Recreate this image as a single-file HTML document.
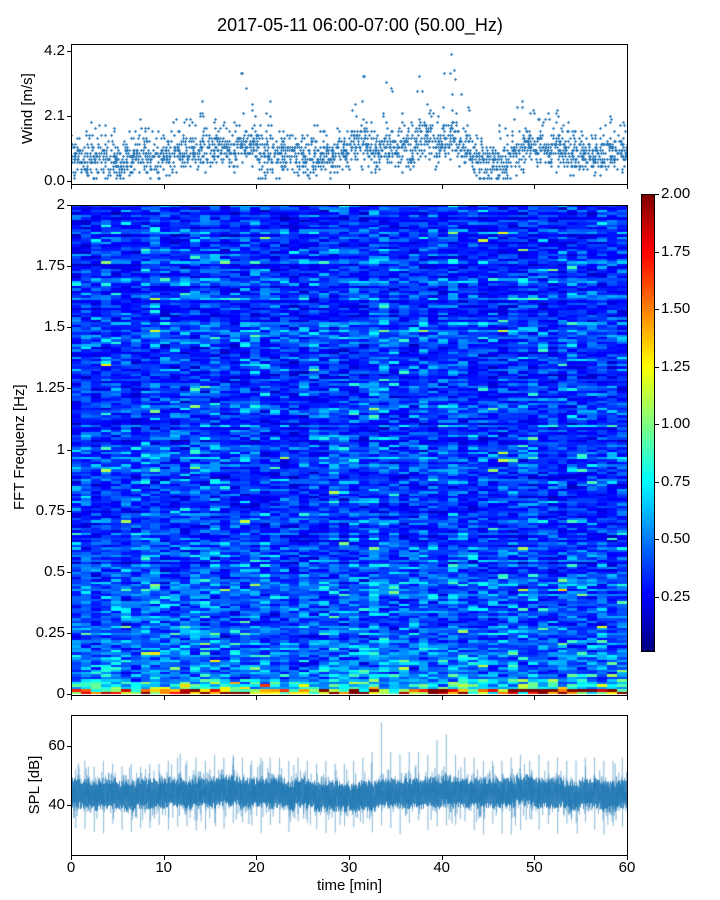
<!DOCTYPE html>
<html><head><meta charset="utf-8">
<style>
body{margin:0;background:#fff;width:720px;height:900px;position:relative;overflow:hidden;font-family:"Liberation Sans","DejaVu Sans",sans-serif;color:#000}
.abs{position:absolute}
.tick{position:absolute;font-size:15px;white-space:nowrap}
.frame{position:absolute;border:1px solid #000;box-sizing:border-box}
canvas{position:absolute}
</style></head><body>
<div class="abs" style="left:0;width:720px;top:15px;text-align:center;font-size:18px">2017-05-11 06:00-07:00 (50.00_Hz)</div>

<canvas id="wind" style="left:71px;top:44px" width="556" height="140"></canvas>
<div class="frame" style="left:71px;top:44px;width:557px;height:141px"></div>
<div class="abs" style="left:-2px;top:114px;width:60px;font-size:15px;transform:rotate(-90deg);text-align:center;white-space:nowrap;line-height:0">Wind [m/s]</div>

<canvas id="spec" style="left:71px;top:205px" width="556" height="490"></canvas>
<div class="frame" style="left:71px;top:205px;width:557px;height:491px"></div>
<div class="abs" style="left:-40px;top:450px;width:120px;font-size:15px;transform:rotate(-90deg);text-align:center;white-space:nowrap;line-height:0">FFT Frequenz [Hz]</div>

<div class="abs" style="left:641px;top:194px;width:14px;height:458px;border:1px solid #000;box-sizing:border-box;background:linear-gradient(to top,#00007f 0%,#0000ff 12.5%,#00ffff 37.5%,#ffff00 62.5%,#ff0000 87.5%,#7f0000 100%)"></div>

<canvas id="spl" style="left:71px;top:715px" width="556" height="140"></canvas>
<div class="frame" style="left:71px;top:715px;width:557px;height:141px"></div>
<div class="abs" style="left:5px;top:785px;width:60px;font-size:15px;transform:rotate(-90deg);text-align:center;white-space:nowrap;line-height:0">SPL [dB]</div>
<div class="abs" style="left:71px;width:557px;top:877px;text-align:center;font-size:15px">time [min]</div>

<div id="ticks"></div>

<script>
// ---- data ----
const windTicks=[0.0,2.1,4.2];
const specTicks=[0,0.25,0.5,0.75,1,1.25,1.5,1.75,2];
const specTickLabels=["0","0.25","0.5","0.75","1","1.25","1.5","1.75","2"];
const cbTicks=[0.25,0.5,0.75,1.0,1.25,1.5,1.75,2.0];
const splTicks=[40,60];
const timeTicks=[0,10,20,30,40,50,60];
// per-minute wind mean and peak (m/s)
const windMean=[0.8,0.7,0.7,0.8,0.7,0.6,0.8,0.9,0.8,0.8,0.8,0.9,1.0,1.0,1.1,1.1,1.1,1.0,1.2,1.2,0.9,0.9,0.8,0.9,0.8,0.7,0.8,0.8,0.8,0.9,1.2,1.3,1.0,1.0,1.1,1.1,1.0,1.3,1.5,1.1,1.4,1.5,1.1,0.7,0.6,0.5,0.6,0.8,1.0,1.2,1.1,1.0,1.2,0.9,0.8,0.8,0.8,0.8,0.9,0.9];
const windPeak=[1.5,1.5,1.9,1.8,1.7,1.3,1.6,2.0,1.7,1.6,1.6,2.0,2.0,2.2,2.6,2.0,1.9,1.9,3.5,2.5,1.5,2.6,1.6,1.5,1.5,1.5,1.8,1.6,1.7,1.6,2.5,3.4,1.9,2.2,3.2,2.2,1.9,3.4,2.5,2.2,4.1,3.6,2.8,1.5,1.2,1.1,1.8,2.0,2.6,2.3,2.0,2.2,2.2,1.9,1.6,1.6,1.5,1.8,2.1,1.9];
// per-minute SPL mean and max spike (dB)
const splMean=[44,44,43,44,44,43,43,44,44,44,44,44,43,44,44,44,45,45,44,44,44,44,44,43,44,44,43,43,43,43,42,43,43,44,44,44,44,44,44,44,45,44,44,44,44,44,44,44,45,45,44,44,44,43,43,44,44,43,43,44];
const splMax=[52,55,53,55,54,53,54,53,54,54,55,56,55,56,55,57,56,57,56,55,56,56,56,55,56,55,54,55,54,54,55,56,58,68,58,57,58,58,57,62,64,57,56,56,55,55,55,56,57,55,57,55,56,55,55,56,56,55,55,56];
// spectrogram column (time) level and row (freq) level profile
const specColLevel=[1.0,1.05,0.95,1.1,1.0,1.0,0.95,1.1,1.15,1.0,1.0,1.05,1.1,1.1,1.0,1.15,1.0,1.0,1.05,1.1,0.95,1.0,1.0,0.9,1.0,1.05,1.0,1.1,1.0,0.95,1.15,1.0,1.2,1.1,1.05,1.0,1.0,1.1,1.0,1.0,1.1,1.05,1.0,1.0,0.9,0.95,1.0,1.05,1.0,1.0,1.0,0.95,1.0,1.05,1.0,1.0,1.05,1.0,1.05,1.0];
const specFreqKnots=[0,0.02,0.05,0.1,0.25,0.5,1,1.5,2];
const specFreqLevel=[1.5,0.8,0.55,0.48,0.4,0.36,0.35,0.33,0.32];

// ---- axes ----
const W=556;
const xT=t=>t/60*W;
const yWind=v=>137-v/4.2*130;
const ySpec=f=>489-f/2*489;
const ySpl=d=>31+(60-d)/20*59;
const yCb=v=>652-(v-0.01)/1.99*458;

// texture generator (visual noise only)
let s=12345;function rnd(){s=(s*1664525+1013904223)>>>0;return s/4294967296;}
function gauss(){return Math.sqrt(-2*Math.log(rnd()+1e-9))*Math.cos(6.2832*rnd());}

// wind scatter (plus markers, 0.1 m/s resolution)
(function(){const c=document.getElementById('wind').getContext('2d');c.fillStyle='#2b7bba';
for(let m=0;m<60;m++){for(let k=0;k<40;k++){const t=m+rnd();let v=windMean[m]+gauss()*0.3;
if(k<3)v=windMean[m]+(windPeak[m]-windMean[m])*(0.6+0.4*rnd());if(k==0)v=windPeak[m];
v=Math.max(0.1,Math.round(v*10)/10);const x=Math.round(xT(t)),y=Math.round(yWind(v));
c.fillRect(x-1,y,3,1);c.fillRect(x,y-1,1,3);}}})();

// spectrogram
function jet(t){t=Math.max(0,Math.min(1,t));const cl=x=>Math.max(0,Math.min(1,x));
return [cl(1.5-Math.abs(4*t-3))*255,cl(1.5-Math.abs(4*t-2))*255,cl(1.5-Math.abs(4*t-1))*255];}
function freqLevel(f){for(let i=1;i<specFreqKnots.length;i++){if(f<=specFreqKnots[i]){const a=specFreqKnots[i-1],b=specFreqKnots[i];const r=(f-a)/(b-a);return specFreqLevel[i-1]*(1-r)+specFreqLevel[i]*r;}}return specFreqLevel[specFreqLevel.length-1];}
(function(){const c=document.getElementById('spec').getContext('2d');const NC=56,NR=200;
const rowF=[];for(let r=0;r<NR;r++)rowF.push(Math.exp(gauss()*0.15));
for(let i=0;i<NC;i++){const tm=i/NC*60;const cl=specColLevel[Math.floor(tm)];
const x0=Math.round(xT(tm)),x1=Math.round(xT((i+1)/NC*60));
for(let r=0;r<NR;r++){const f=(r+0.5)/NR*2;let v=freqLevel(f)*cl*rowF[r]*Math.exp(gauss()*0.33);
if(r<2)v*=1+rnd()*0.8;
const [R,G,B]=jet(v/2);c.fillStyle=`rgb(${R|0},${G|0},${B|0})`;
const y0=Math.round(ySpec(2*(r+1)/NR)),y1=Math.round(ySpec(2*r/NR));c.fillRect(x0,y0,x1-x0,Math.max(1,y1-y0));}}})();

// SPL
(function(){const c=document.getElementById('spl').getContext('2d');
c.strokeStyle='rgba(31,119,180,0.85)';c.lineWidth=1;c.beginPath();
for(let px=0;px<W;px++){const m=Math.min(59,Math.floor(px/W*60));const a=3+rnd()*2.5,b=3+rnd()*2.5;c.moveTo(px+0.5,ySpl(splMean[m]+a));c.lineTo(px+0.5,ySpl(splMean[m]-b));}c.stroke();
c.strokeStyle='rgba(31,119,180,0.3)';c.beginPath();let first=true;
for(let m=0;m<60;m++){for(let k=0;k<60;k++){const t=m+k/60;let v=splMean[m]+gauss()*3.5;
if(k==30)v=splMax[m];if(k==31)v=splMean[m]-9-rnd()*5;
const x=xT(t),y=ySpl(v);if(first){c.moveTo(x,y);first=false;}else c.lineTo(x,y);}}c.stroke();})();

// ticks
const T=document.getElementById('ticks');
function tk(name,x,y,w,h){const d=document.createElement('div');


d.className='abs';d.style.cssText=`left:${x}px;top:${y}px;width:${w}px;height:${h}px;background:#000`;T.appendChild(d);}
function lab(name,txt,x,y,align){const d=document.createElement('div');


d.className='tick';d.textContent=txt;
if(align=='r'){d.style.right=(720-x)+'px';d.style.top=(y-9)+'px';}
else if(align=='c'){d.style.left=(x-30)+'px';d.style.width='60px';d.style.textAlign='center';d.style.top=y+'px';}
else{d.style.left=x+'px';d.style.top=(y-9)+'px';}T.appendChild(d);}
windTicks.forEach(v=>{const y=44+yWind(v);tk('wind-y-tick',67,y,4,1);lab('wind-y-label',v.toFixed(1),65,y,'r');});
specTicks.forEach((v,i)=>{const y=205+ySpec(v);tk('spec-y-tick',67,y,4,1);lab('spec-y-label',specTickLabels[i],65,y,'r');});
cbTicks.forEach(v=>{const y=yCb(v);tk('colorbar-tick',655,y,4,1);lab('colorbar-label',v.toFixed(2),661,y,'l');});
splTicks.forEach(v=>{const y=715+ySpl(v);tk('spl-y-tick',67,y,4,1);lab('spl-y-label',String(v),65,y,'r');});
timeTicks.forEach(t=>{const x=71+xT(t);tk('wind-x-tick',x,185,1,4);tk('spec-x-tick',x,696,1,4);tk('spl-x-tick',x,856,1,4);lab('x-tick-label',String(t),x,859,'c');});
</script>
</body></html>
